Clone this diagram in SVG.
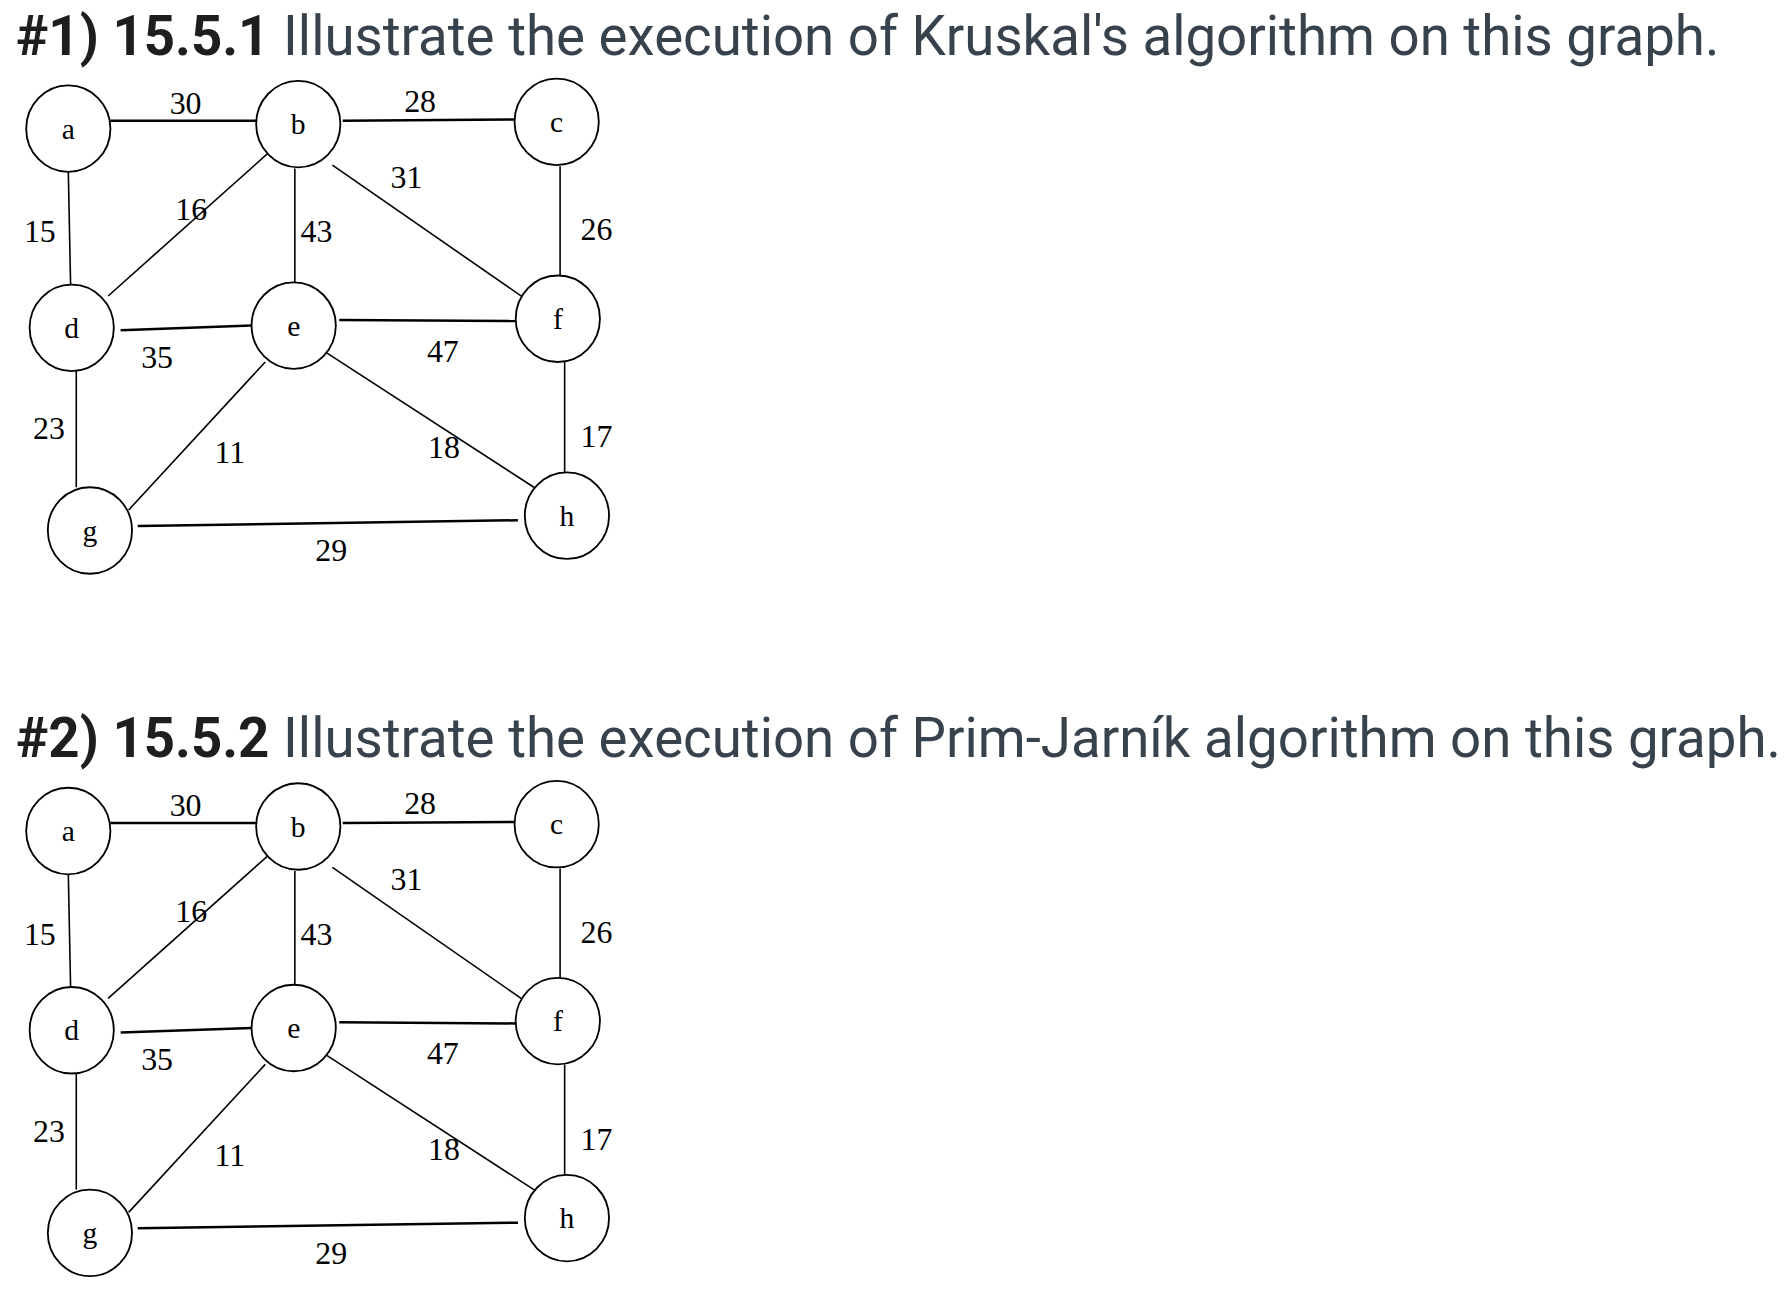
<svg xmlns="http://www.w3.org/2000/svg" width="1785" height="1297" viewBox="0 0 1785 1297">
<defs>
<style>
.t{font-family:Roboto,"Liberation Sans",sans-serif;font-size:48px;fill:#37424c}
.tb{font-weight:bold;fill:#1e1e1e}
.n{fill:#fff;stroke:#000;stroke-width:1.6}
.nl{font-family:"Liberation Serif",serif;font-size:26px;text-anchor:middle;fill:#000}
.el{font-family:"Liberation Serif",serif;font-size:28px;text-anchor:middle;fill:#000}
.e{stroke:#000;stroke-width:1.4;fill:none}
.h{stroke-width:2.2}
</style>
<g id="graph">
<g id="edges">
<line class="e h" x1="97" y1="106" x2="226" y2="106"/>
<line class="e h" x1="301" y1="106" x2="452" y2="105"/>
<line class="e" x1="60" y1="150" x2="62" y2="250"/>
<line class="e" x1="235" y1="135" x2="95" y2="260"/>
<line class="e" x1="259" y1="148" x2="259" y2="248"/>
<line class="e" x1="292" y1="145" x2="465" y2="265"/>
<line class="e" x1="492" y1="146" x2="492" y2="245"/>
<line class="e h" x1="106" y1="290" x2="221" y2="286"/>
<line class="e h" x1="298" y1="281" x2="453" y2="282"/>
<line class="e" x1="67" y1="324" x2="67" y2="428"/>
<line class="e" x1="233" y1="318" x2="113" y2="448"/>
<line class="e" x1="287" y1="310" x2="472" y2="430"/>
<line class="e" x1="496" y1="318" x2="496" y2="415"/>
<line class="e h" x1="121" y1="462" x2="455" y2="457"/>
</g>
<g id="edge-labels">
<text class="el" x="163" y="100">30</text>
<text class="el" x="369" y="98">28</text>
<text class="el" x="357" y="165">31</text>
<text class="el" x="168" y="193">16</text>
<text class="el" x="35" y="213">15</text>
<text class="el" x="278" y="213">43</text>
<text class="el" x="524" y="211">26</text>
<text class="el" x="138" y="323">35</text>
<text class="el" x="389" y="318">47</text>
<text class="el" x="43" y="386">23</text>
<text class="el" x="202" y="407">11</text>
<text class="el" x="390" y="402">18</text>
<text class="el" x="524" y="393">17</text>
<text class="el" x="291" y="493">29</text>
</g>
<g id="node-a"><ellipse class="n" cx="60" cy="113" rx="37" ry="38"/><text class="nl" x="60" y="122">a</text></g>
<g id="node-b"><ellipse class="n" cx="262" cy="109" rx="37" ry="38"/><text class="nl" x="262" y="118">b</text></g>
<g id="node-c"><ellipse class="n" cx="489" cy="107" rx="37" ry="38"/><text class="nl" x="489" y="116">c</text></g>
<g id="node-d"><ellipse class="n" cx="63" cy="288" rx="37" ry="38"/><text class="nl" x="63" y="297">d</text></g>
<g id="node-e"><ellipse class="n" cx="258" cy="286" rx="37" ry="38"/><text class="nl" x="258" y="295">e</text></g>
<g id="node-f"><ellipse class="n" cx="490" cy="280" rx="37" ry="38"/><text class="nl" x="490" y="289">f</text></g>
<g id="node-g"><ellipse class="n" cx="79" cy="466" rx="37" ry="38"/><text class="nl" x="79" y="475">g</text></g>
<g id="node-h"><ellipse class="n" cx="498" cy="453" rx="37" ry="38"/><text class="nl" x="498" y="462">h</text></g>
</g>
</defs>
<rect width="1785" height="1297" fill="#fff"/>
<g transform="scale(1.1384)">
<text class="t" x="14" y="48"><tspan class="tb">#1) 15.5.1</tspan> Illustrate the execution of Kruskal's algorithm on this graph.</text>
<text class="t" x="14" y="665"><tspan class="tb">#2) 15.5.2</tspan>  Illustrate the execution of Prim-Jarník algorithm on this graph.</text>
<use href="#graph"/>
<use href="#graph" transform="translate(0,617)"/>
</g>
</svg>
